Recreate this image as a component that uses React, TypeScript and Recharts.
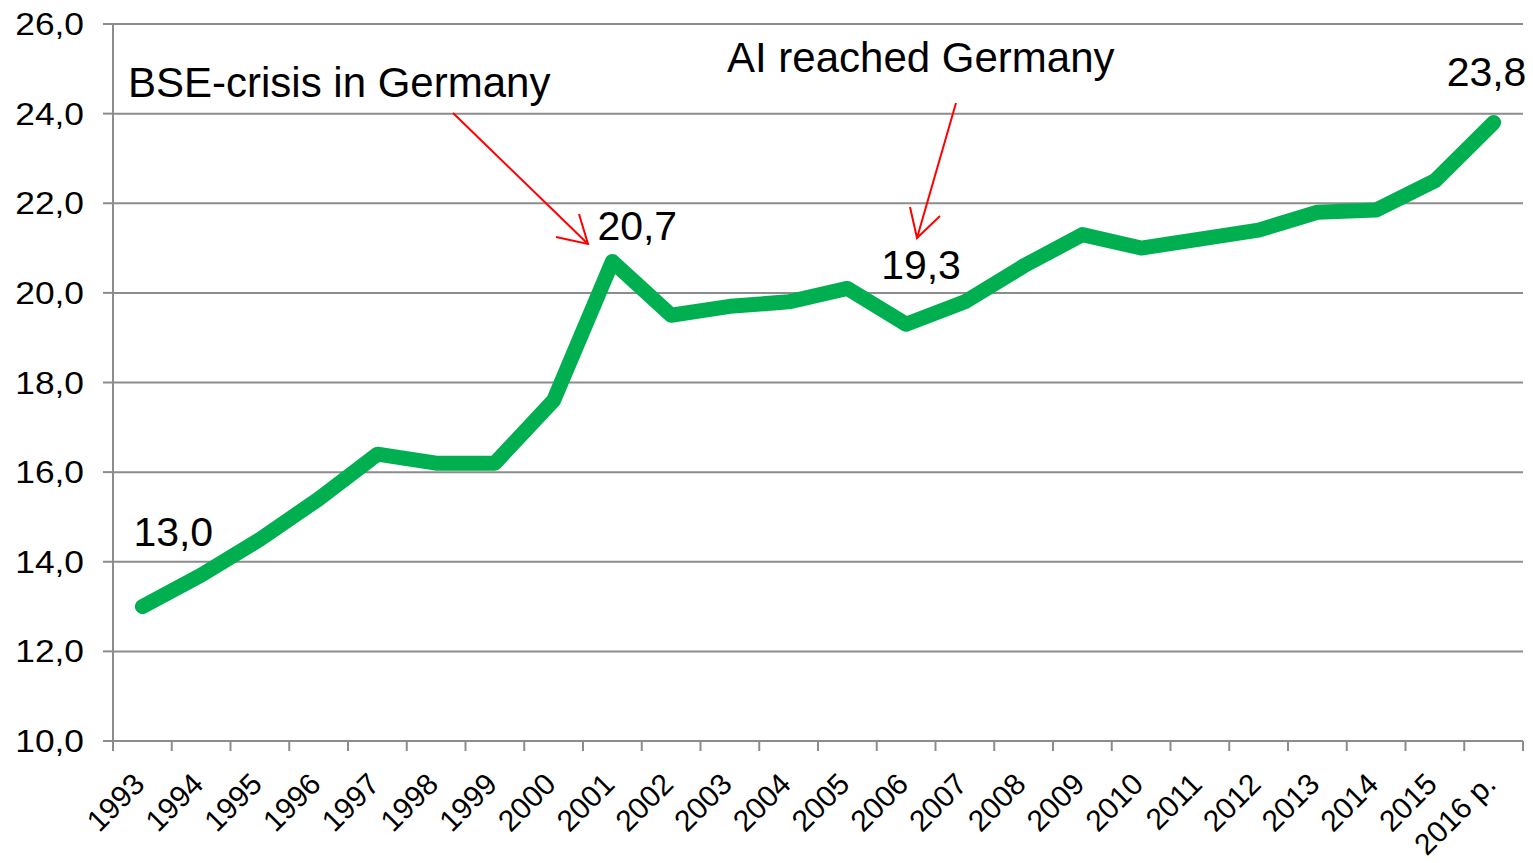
import { LineChart, Line, XAxis, YAxis, CartesianGrid, LabelList } from 'recharts'

const YEARS = [
  '1993', '1994', '1995', '1996', '1997', '1998', '1999', '2000',
  '2001', '2002', '2003', '2004', '2005', '2006', '2007', '2008',
  '2009', '2010', '2011', '2012', '2013', '2014', '2015', '2016 p.',
]

const VALUES = [
  13.0, 13.7, 14.5, 15.4, 16.4, 16.2, 16.2, 17.6,
  20.7, 19.5, 19.7, 19.8, 20.1, 19.3, 19.8, 20.6,
  21.3, 21.0, 21.2, 21.4, 21.8, 21.85, 22.5, 23.8,
]

const Y_TICKS = [10, 12, 14, 16, 18, 20, 22, 24, 26]

// years that carry a value label
const LABELED = ['1993', '2001', '2006', '2016 p.']

// label placement relative to the point (text start, baseline)
const LABEL_OFFSET: Record<string, [number, number]> = {
  '1993': [-9, -61],
  '2001': [-15, -22],
  '2006': [-25, -45],
  '2016 p.': [-47, -37],
}

const data = YEARS.map((year, i) => ({ year, pos: i + 0.5, value: VALUES[i] }))
const X_TICKS = YEARS.map((_, i) => i).concat(YEARS.length)

const W = 1533
const H = 863
const MARGIN = { top: 24, right: 10, left: 0, bottom: 0 }
const Y_AXIS_W = 113
const X_AXIS_H = 122
const STEP = (W - MARGIN.left - MARGIN.right - Y_AXIS_W) / YEARS.length

const GRAY = '#8c8c8c'
const GREEN = '#00B050'
const RED = '#FF0000'
const FONT = 'Arial, "Liberation Sans", sans-serif'

const fmt = (v: number) => v.toFixed(1).replace('.', ',')

function YTick({ x, y, payload }: any) {
  return (
    <g transform={`translate(${x},${y}) scale(1.14,1)`}>
      <text x={0} y={11} textAnchor="end" fontSize={31} fontFamily={FONT} fill="#000">
        {fmt(payload.value)}
      </text>
    </g>
  )
}

function XTick({ x, y, payload }: any) {
  const i = payload.value
  if (i >= YEARS.length) return null
  const ax = x + STEP / 2 + 4
  const ay = y + 35
  return (
    <text
      x={ax} y={ay} textAnchor="end" fontSize={30} fontFamily={FONT} fill="#000"
      transform={`rotate(-45, ${ax}, ${ay})`}
    >
      {YEARS[i]}
    </text>
  )
}

function ValueLabel({ x, y, index }: any) {
  const year = YEARS[index]
  if (!LABELED.includes(year)) return null
  const [dx, dy] = LABEL_OFFSET[year]
  return (
    <text x={x + dx} y={y + dy} fontSize={41} fontFamily={FONT} fill="#000">
      {fmt(VALUES[index])}
    </text>
  )
}

export default function App() {
  return (
    <div style={{ position: 'absolute', left: 0, top: 0, width: W, height: H, background: '#fff' }}>
      <LineChart width={W} height={H} data={data} margin={MARGIN}>
        <CartesianGrid vertical={false} stroke={GRAY} strokeWidth={2} />
        <XAxis
          dataKey="pos" type="number" domain={[0, YEARS.length]} ticks={X_TICKS} interval={0}
          height={X_AXIS_H} tick={<XTick />} tickSize={10} tickMargin={0}
          axisLine={{ stroke: GRAY, strokeWidth: 2 }} tickLine={{ stroke: GRAY, strokeWidth: 2 }}
        />
        <YAxis
          domain={[10, 26]} ticks={Y_TICKS} interval={0} width={Y_AXIS_W}
          tick={<YTick />} tickSize={10} tickMargin={19}
          axisLine={{ stroke: GRAY, strokeWidth: 2 }} tickLine={{ stroke: GRAY, strokeWidth: 2 }}
        />
        <Line
          type="linear" dataKey="value" stroke={GREEN} strokeWidth={15}
          strokeLinejoin="round" strokeLinecap="round" dot={false} isAnimationActive={false}
        >
          <LabelList dataKey="value" content={<ValueLabel />} />
        </Line>
      </LineChart>

      {/* annotations */}
      <svg width={W} height={H} style={{ position: 'absolute', left: 0, top: 0, pointerEvents: 'none' }}>
        <text x={128} y={97} fontSize={42} fontFamily={FONT} fill="#000">BSE-crisis in Germany</text>
        <text x={727} y={72} fontSize={42} fontFamily={FONT} fill="#000">AI reached Germany</text>
        <g stroke={RED} strokeWidth={2} fill="none">
          <line x1={453} y1={113} x2={588} y2={244} />
          <polyline points="556,237 588,244 579,214" />
          <line x1={956} y1={103} x2={917} y2={238} />
          <polyline points="910,207 917,238 940,216" />
        </g>
      </svg>
    </div>
  )
}
